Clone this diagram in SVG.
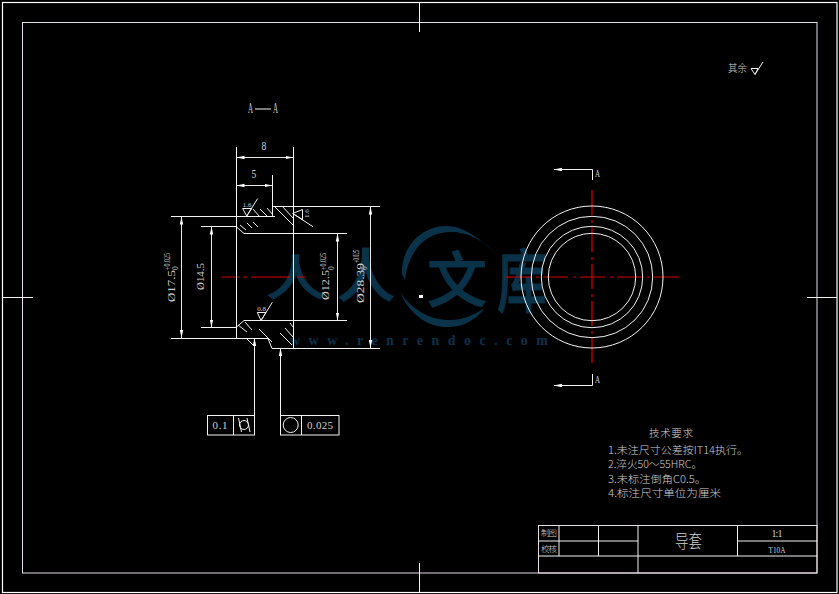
<svg xmlns="http://www.w3.org/2000/svg" width="839" height="594" viewBox="0 0 839 594">
<style>
.l{fill:none;stroke:#f2f2f2;stroke-width:1}
.b{fill:none;stroke:#fff;stroke-width:1.2}
.f{fill:none;stroke:#e6dce6;stroke-width:1}
.r{fill:none;stroke:#d80000;stroke-width:1.2}
.h{fill:none;stroke:#eee;stroke-width:1}
.a{marker-end:url(#ar)}
.d{fill:none;stroke:#e8e8e8;stroke-width:1;marker-start:url(#ar);marker-end:url(#ar)}
text{fill:#cfcfcf;font-family:"Liberation Serif","Noto Sans CJK SC",serif}
.c{font-family:"Noto Sans CJK SC","Liberation Serif",sans-serif;font-weight:300}
.m{text-anchor:middle}
.wm{fill:#0a3249;stroke:#0a3249;stroke-width:1;font-family:"Noto Sans CJK SC",sans-serif;font-weight:500}
</style>
<defs>
<marker id="ar" markerUnits="userSpaceOnUse" markerWidth="10" markerHeight="6" viewBox="0 -3 10 6" refX="8" refY="0" orient="auto-start-reverse"><path d="M0,-1.7 L8,0 L0,1.7 Z" fill="#fff"/></marker>
</defs>
<rect width="839" height="594" fill="#000"/>
<g id="watermark">
<text class="wm" transform="translate(266,295) scale(1,0.8)" font-size="60" textLength="60" lengthAdjust="spacingAndGlyphs">人</text>
<text class="wm" transform="translate(337,297) scale(1,1)" font-size="58">人</text>
<path d="M497,255 C478,236 462,226 447,226 C420,226 401,248 402,274 L405,280 C408,252 425,232 450,232 C468,232 484,240 497,255 Z" fill="#0a3249"/>
<path d="M400,292 C410,315 428,328 450,327 C465,327 477,318 485,308 C472,316 462,320 450,320 C430,320 412,310 400,292 Z" fill="#0a3249"/>
<text class="wm" x="427" y="302" font-size="60">文</text>
<text class="wm" transform="translate(497,307) scale(0.86,1.2)" font-size="58">库</text>
<text x="290" y="345" font-size="14" font-weight="700" textLength="258" style="fill:#0a3249">www.renrendoc.com</text>
</g>
<g id="frame">
<rect class="b" x="2.500" y="2.500" width="834.500" height="590"/>
<rect class="f" x="22.500" y="22.500" width="794.500" height="550.500"/>
<path class="l" d="M419.500,3V32M419.500,563V592M3,297.500H33M807,297.500H837"/>
</g>
<g id="centerlines">
<path class="r" d="M221.500,277H240M243,277H247M251,277H290M297,277H305"/>
<path class="r" stroke-dasharray="25 5 3 4" d="M506,277H679"/>
<path class="r" stroke-dasharray="25 5 3 4" d="M592,190V363"/>
</g>
<g id="section-view">
<path class="l" d="M236.500,147V338M293.500,147V348M272.500,175V216"/>
<path class="l" d="M272,206.500H380M171,216.500H275M201,226.500H236L244,233.500H347"/>
<path class="l" d="M201,327.500H236L244,320.500H347M171,338.500H268L272,348.500H380"/>
<path class="h" d="M253,209L259,216M260,209L267,216M267,208L273,215M240,225L246,230M247,223L252,228M253,222L258,227M275,207L293,225M282,206L293,218M238,325L247,332M245,322L252,330M259,329L272,342M280,333L292,345M285,328L293,337M290,323L293,327M246,338L253,345"/>
</g>
<g id="dimensions">
<path class="d" d="M236.500,157.500H293.500"/>
<path class="d" d="M236.500,185.500H272.500"/>
<path class="d" d="M181.500,216.500V338"/>
<path class="d" d="M211.500,226.500V327.500"/>
<path class="d" d="M337.500,233.500V320.500"/>
<path class="d" d="M370.500,206.500V348"/>
<text class="m" transform="translate(264,150) scale(0.8,1.1)" font-size="12">8</text>
<text class="m" transform="translate(254,178) scale(0.8,1.1)" font-size="12">5</text>
<text transform="translate(175,302) rotate(-90)" font-size="11" textLength="32" lengthAdjust="spacingAndGlyphs">Ø17.5</text>
<text transform="translate(170,270) rotate(-90)" font-size="7.5" textLength="17" lengthAdjust="spacingAndGlyphs">+0.025</text>
<text transform="translate(178,270) rotate(-90)" font-size="7.5">0</text>
<text transform="translate(204,290) rotate(-90)" font-size="11" textLength="27" lengthAdjust="spacingAndGlyphs">Ø14.5</text>
<text transform="translate(329,300) rotate(-90)" font-size="11" textLength="30" lengthAdjust="spacingAndGlyphs">Ø12.5</text>
<text transform="translate(326,270) rotate(-90)" font-size="7.5" textLength="17" lengthAdjust="spacingAndGlyphs">+0.025</text>
<text transform="translate(334,270) rotate(-90)" font-size="7.5">0</text>
<text transform="translate(364,303) rotate(-90)" font-size="11" textLength="40" lengthAdjust="spacingAndGlyphs">Ø28.39</text>
<text transform="translate(359,263) rotate(-90)" font-size="7.5" textLength="13" lengthAdjust="spacingAndGlyphs">+0.025</text>
<text transform="translate(367,270) rotate(-90)" font-size="7.5">0</text>
</g>
<g id="roughness">
<path class="l" d="M242.700,208.500H251.700L246.700,216L242.700,208.500M246.700,216L257.700,198.500"/>
<text class="m" x="247" y="207" font-size="7">1.6</text>
<path class="l" d="M302.500,209.500V219.500L292.700,213.500L302.500,209.500M292.700,213.500L313,226.700"/>
<text transform="translate(309,218) rotate(-90)" font-size="7">1.6</text>
<path class="l" d="M257.300,312.500H266L261,320.500L257.300,312.500M261,320.500L272.300,302.300"/>
<text class="m" x="261.700" y="311" font-size="7">0.8</text>
<path class="l" d="M751,68.500H758L755,74.500L751,68.500M755,74.500L763,62"/>
<text class="c" x="728" y="72" font-size="10" textLength="19" lengthAdjust="spacingAndGlyphs">其余</text>
</g>
<g id="tolerances">
<path class="l a" d="M254.500,415V338"/>
<path class="l a" d="M280.500,415V348"/>
<rect class="l" x="207.500" y="415.500" width="47" height="19.500"/>
<path class="l" d="M233.500,415.500V435"/>
<text class="m" x="220" y="429" font-size="11" textLength="15">0.1</text>
<circle class="l" cx="244" cy="425" r="4.500"/>
<path class="l" d="M238.500,418L241.500,432M247,418L250,432"/>
<rect class="l" x="280.500" y="415.500" width="58.500" height="19.500"/>
<path class="l" d="M301.500,415.500V435"/>
<circle class="l" cx="290.700" cy="425" r="7.500"/>
<text x="307" y="429" font-size="11" textLength="26">0.025</text>
</g>
<g id="end-view">
<circle class="l" cx="592" cy="277" r="71"/>
<circle class="l" cx="592" cy="277" r="60.700"/>
<circle class="l" cx="592" cy="277" r="50.700"/>
<circle class="l" cx="592" cy="277" r="43.700"/>
<path class="l a" d="M592.500,180V169.500H554"/>
<path class="l a" d="M592.500,374V385.500H554"/>
<text x="595" y="177" font-size="11" textLength="5" lengthAdjust="spacingAndGlyphs">A</text>
<text x="595" y="383" font-size="11" textLength="5" lengthAdjust="spacingAndGlyphs">A</text>
</g>
<g id="section-label">
<text x="248" y="113" font-size="14" textLength="5" lengthAdjust="spacingAndGlyphs">A</text>
<path class="l" d="M255,109H271"/>
<text x="273" y="113" font-size="14" textLength="5" lengthAdjust="spacingAndGlyphs">A</text>
</g>
<g id="notes">
<text class="c" x="649" y="437" font-size="10.500" textLength="44">技术要求</text>
<text class="c" x="608" y="454" font-size="10.500" textLength="140" lengthAdjust="spacingAndGlyphs">1.未注尺寸公差按IT14执行。</text>
<text class="c" x="608" y="468" font-size="10.500" textLength="94" lengthAdjust="spacingAndGlyphs">2.淬火50～55HRC。</text>
<text class="c" x="608" y="482.500" font-size="10.500" textLength="98" lengthAdjust="spacingAndGlyphs">3.未标注倒角C0.5。</text>
<text class="c" x="608" y="497" font-size="10.500" textLength="113" lengthAdjust="spacingAndGlyphs">4.标注尺寸单位为厘米</text>
</g>
<g id="title-block">
<rect class="f" x="538.500" y="525.500" width="278.500" height="47.500"/>
<path class="l" d="M538.500,541H638M737.500,541H817M538.500,556H817M559,525.500V556M598.500,525.500V556M638,525.500V573M737.500,525.500V556"/>
<text class="c" x="541" y="536" font-size="8.500" textLength="16">制图</text>
<text class="c" x="541" y="552" font-size="8.500" textLength="16">校核</text>
<text class="c" x="675" y="548" font-size="18" textLength="27" lengthAdjust="spacingAndGlyphs">导套</text>
<text class="m" x="777" y="537" font-size="10" textLength="11">1:1</text>
<text class="m" x="777" y="552.500" font-size="9" textLength="17" lengthAdjust="spacingAndGlyphs">T10A</text>
</g>
<rect id="cursor" x="419" y="295" width="4" height="3" fill="#fff"/>
</svg>
